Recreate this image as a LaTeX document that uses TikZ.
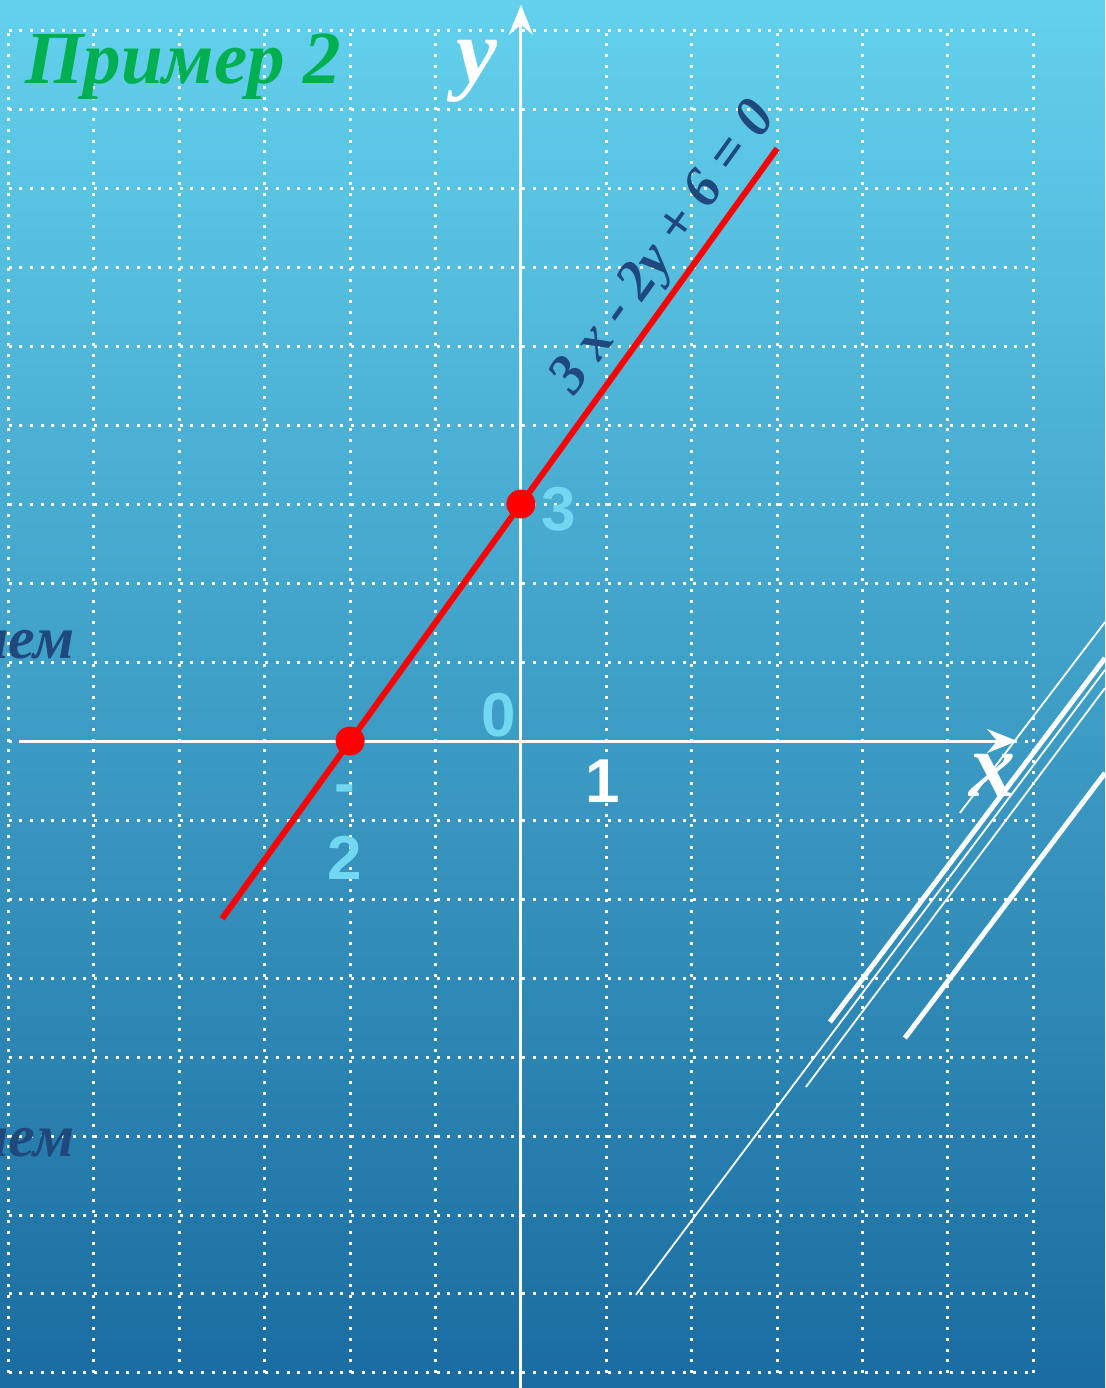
\documentclass[tikz,border=0pt]{standalone}
\usepackage{fontspec}
\setmainfont{Liberation Serif}
\setsansfont{Liberation Sans}
\usetikzlibrary{arrows.meta}

\definecolor{bgtop}{RGB}{99,209,237}
\definecolor{bgbottom}{RGB}{26,108,160}
\definecolor{titlegreen}{RGB}{0,176,80}
\definecolor{eqblue}{RGB}{31,73,125}
\definecolor{numcyan}{RGB}{114,216,242}

\begin{document}
\begin{tikzpicture}[x=42.7pt, y=39.5pt,
  gridline/.style={white, line width=1.5pt, dash pattern=on 1.5pt off 3.85pt},
  axis/.style={white, line width=1.5pt, -{Stealth[length=15pt, width=12pt, inset=5pt]}},
  graphline/.style={red, line width=3pt},
  point/.style={circle, fill=red, minimum size=14.5pt, inner sep=0pt},
  num/.style={font=\sffamily\bfseries\fontsize{31}{37.5}\selectfont, text=numcyan, inner sep=0pt},
  axislabel/.style={font=\bfseries\itshape\fontsize{46}{50}\selectfont, text=white, inner sep=0pt},
  cuttext/.style={font=\bfseries\itshape\fontsize{30}{34}\selectfont, text=eqblue, inner sep=0pt, anchor=base east},
  deco/.style={white, line width=#1}]
\useasboundingbox (-6.1,-8.19) rectangle (6.84,9.38);
\fill[top color=bgtop, bottom color=bgbottom] (-6.1,-8.19) rectangle (6.84,9.38);
\draw[gridline, step={(1,1)}] (-6,-8) grid (6,9);
\node[cuttext] (cutupper) at (-5.22,1.05) {ием};
\node[cuttext] (cutlower) at (-5.22,-5.26) {ием};
\draw[axis] (-5.84,0) -- (5.81,0);
\draw[axis] (0,-8.19) -- (0,9.32);
\draw[deco=0.9pt] (1.347,-7.01) -- (6.84,0.90);
\draw[deco=2.5pt] (3.618,-3.557) -- (6.84,1.05);
\draw[deco=0.9pt] (3.337,-4.38) -- (6.84,0.671);
\draw[deco=0.9pt] (5.14,-0.911) -- (6.84,1.506);
\draw[deco=2.5pt] (4.496,-3.76) -- (6.84,-0.405);
\node[font=\bfseries\itshape\fontsize{37.5}{44}\selectfont, text=titlegreen, inner sep=0pt, anchor=base west] (title) at (-5.81,8.32) {Пример 2};
\node[axislabel] (ylabel) at (-0.51,8.48) {y};
\node[axislabel] (xlabel) at (5.52,-0.43) {x};
\draw[graphline] (-3.5,-2.25) -- (3,7.5)
  node[pos=0.845, sloped, above=2pt, font=\bfseries\itshape\fontsize{28}{32}\selectfont, text=eqblue, inner sep=0pt] (equation) {3 x - 2y + 6 = 0};
\node[point] (xint) at (-2,0) {};
\node[point] (yint) at (0,3) {};
\node[num] (ynum) at (0.445,2.94) {3};
\node[num] (origin) at (-0.258,0.33) {0};
\node[num, text=white] (unit) at (0.96,-0.506) {1};
\node[num, align=center] (xnum) at (-2.06,-1.15) {-\\2};
\end{tikzpicture}
\end{document}
